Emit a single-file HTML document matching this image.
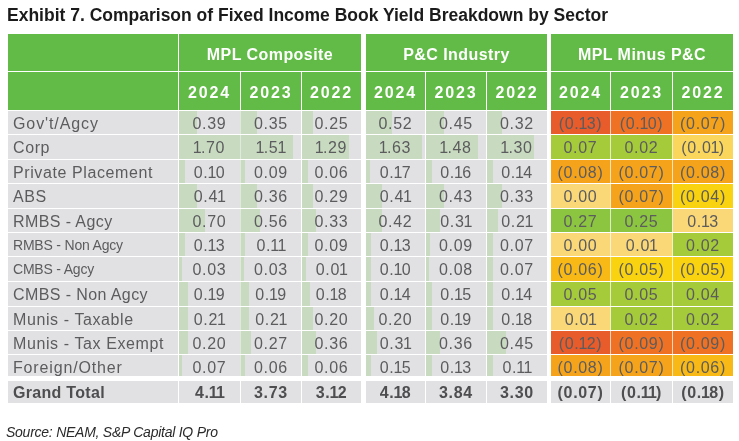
<!DOCTYPE html><html><head><meta charset="utf-8"><style>
html,body{margin:0;padding:0;background:#fff}
body{width:739px;height:441px;position:relative;overflow:hidden;font-family:"Liberation Sans",Arial,sans-serif}
.c{position:absolute;box-sizing:border-box;overflow:hidden}
.t{position:absolute;left:0;right:0;white-space:nowrap}
.title{position:absolute;left:7px;top:5px;font-weight:bold;font-size:17.5px;letter-spacing:0.0px;color:#1b1b1b;white-space:nowrap}
.grp{color:#fff;font-weight:bold;font-size:16.0px;letter-spacing:0.45px;text-align:center}
.yr{color:#fff;font-weight:bold;font-size:16.0px;letter-spacing:1.8px;text-align:center}
.lab{color:#5c5c5e;font-size:16.0px;letter-spacing:0.6px;padding-left:5px}
.sm{font-size:14.0px;letter-spacing:-0.2px}
.num{color:#5c5c5e;font-size:16.0px;letter-spacing:0.7px;text-align:center}
.bar{position:absolute;left:0;top:0;bottom:0;background:#c8dbc0}
.gt{font-weight:bold;color:#4e4e50}
.n1{letter-spacing:-0.8px;margin-left:-1px}
.src{position:absolute;left:6px;top:424px;letter-spacing:-0.25px;font-style:italic;font-size:14.0px;color:#2b2b2b;white-space:nowrap}

</style></head><body>
<div class="title">Exhibit 7. Comparison of Fixed Income Book Yield Breakdown by Sector</div>
<div class="c " style="left:8px;top:34px;width:170px;height:37px;background:#62bb47"></div>
<div class="c " style="left:179px;top:34px;width:182px;height:37px;background:#62bb47"><div class="t grp" style="top:12px">MPL Composite</div></div>
<div class="c " style="left:366px;top:34px;width:181px;height:37px;background:#62bb47"><div class="t grp" style="top:12px">P&amp;C Industry</div></div>
<div class="c " style="left:551px;top:34px;width:182px;height:37px;background:#62bb47"><div class="t grp" style="top:12px">MPL Minus P&amp;C</div></div>
<div class="c " style="left:8px;top:72px;width:170px;height:38px;background:#62bb47"></div>
<div class="c " style="left:179px;top:72px;width:61px;height:38px;background:#62bb47"><div class="t yr" style="top:12px">2024</div></div>
<div class="c " style="left:241px;top:72px;width:60px;height:38px;background:#62bb47"><div class="t yr" style="top:12px">2023</div></div>
<div class="c " style="left:302px;top:72px;width:59px;height:38px;background:#62bb47"><div class="t yr" style="top:12px">2022</div></div>
<div class="c " style="left:366px;top:72px;width:59px;height:38px;background:#62bb47"><div class="t yr" style="top:12px">2024</div></div>
<div class="c " style="left:426px;top:72px;width:60px;height:38px;background:#62bb47"><div class="t yr" style="top:12px">2023</div></div>
<div class="c " style="left:487px;top:72px;width:60px;height:38px;background:#62bb47"><div class="t yr" style="top:12px">2022</div></div>
<div class="c " style="left:551px;top:72px;width:59px;height:38px;background:#62bb47"><div class="t yr" style="top:12px">2024</div></div>
<div class="c " style="left:611px;top:72px;width:61px;height:38px;background:#62bb47"><div class="t yr" style="top:12px">2023</div></div>
<div class="c " style="left:673px;top:72px;width:60px;height:38px;background:#62bb47"><div class="t yr" style="top:12px">2022</div></div>
<div class="c " style="left:8px;top:111px;width:170px;height:23px;background:#e1e1e3"><div class="t lab" style="top:4px;letter-spacing:0.9px">Gov't/Agcy</div></div>
<div class="c " style="left:179px;top:111px;width:61px;height:23px;background:#e1e1e3"><div class="bar" style="width:18px"></div><div class="t num" style="top:4px">0.39</div></div>
<div class="c " style="left:241px;top:111px;width:60px;height:23px;background:#e1e1e3"><div class="bar" style="width:16px"></div><div class="t num" style="top:4px">0.35</div></div>
<div class="c " style="left:302px;top:111px;width:59px;height:23px;background:#e1e1e3"><div class="bar" style="width:11px"></div><div class="t num" style="top:4px">0.25</div></div>
<div class="c " style="left:366px;top:111px;width:59px;height:23px;background:#e1e1e3"><div class="bar" style="width:26px"></div><div class="t num" style="top:4px">0.52</div></div>
<div class="c " style="left:426px;top:111px;width:60px;height:23px;background:#e1e1e3"><div class="bar" style="width:18px"></div><div class="t num" style="top:4px">0.45</div></div>
<div class="c " style="left:487px;top:111px;width:60px;height:23px;background:#e1e1e3"><div class="bar" style="width:15px"></div><div class="t num" style="top:4px">0.32</div></div>
<div class="c " style="left:551px;top:111px;width:59px;height:23px;background:#e85b2a"><div class="t num" style="top:4px">(0.<span class="n1">1</span>3)</div></div>
<div class="c " style="left:611px;top:111px;width:61px;height:23px;background:#ef7224"><div class="t num" style="top:4px">(0.<span class="n1">1</span>0)</div></div>
<div class="c " style="left:673px;top:111px;width:60px;height:23px;background:#f6a31c"><div class="t num" style="top:4px">(0.07)</div></div>
<div class="c " style="left:8px;top:135px;width:170px;height:24px;background:#e1e1e3"><div class="t lab" style="top:4px">Corp</div></div>
<div class="c " style="left:179px;top:135px;width:61px;height:24px;background:#e1e1e3"><div class="bar" style="width:61px"></div><div class="t num" style="top:4px"><span class="n1">1</span>.70</div></div>
<div class="c " style="left:241px;top:135px;width:60px;height:24px;background:#e1e1e3"><div class="bar" style="width:52px"></div><div class="t num" style="top:4px"><span class="n1">1</span>.5<span class="n1">1</span></div></div>
<div class="c " style="left:302px;top:135px;width:59px;height:24px;background:#e1e1e3"><div class="bar" style="width:47px"></div><div class="t num" style="top:4px"><span class="n1">1</span>.29</div></div>
<div class="c " style="left:366px;top:135px;width:59px;height:24px;background:#e1e1e3"><div class="bar" style="width:56px"></div><div class="t num" style="top:4px"><span class="n1">1</span>.63</div></div>
<div class="c " style="left:426px;top:135px;width:60px;height:24px;background:#e1e1e3"><div class="bar" style="width:52px"></div><div class="t num" style="top:4px"><span class="n1">1</span>.48</div></div>
<div class="c " style="left:487px;top:135px;width:60px;height:24px;background:#e1e1e3"><div class="bar" style="width:47px"></div><div class="t num" style="top:4px"><span class="n1">1</span>.30</div></div>
<div class="c " style="left:551px;top:135px;width:59px;height:24px;background:#a5cb3a"><div class="t num" style="top:4px">0.07</div></div>
<div class="c " style="left:611px;top:135px;width:61px;height:24px;background:#a5cb3a"><div class="t num" style="top:4px">0.02</div></div>
<div class="c " style="left:673px;top:135px;width:60px;height:24px;background:#fad65c"><div class="t num" style="top:4px">(0.0<span class="n1">1</span>)</div></div>
<div class="c " style="left:8px;top:160px;width:170px;height:23px;background:#e1e1e3"><div class="t lab" style="top:4px">Private Placement</div></div>
<div class="c " style="left:179px;top:160px;width:61px;height:23px;background:#e1e1e3"><div class="bar" style="width:6px"></div><div class="t num" style="top:4px">0.<span class="n1">1</span>0</div></div>
<div class="c " style="left:241px;top:160px;width:60px;height:23px;background:#e1e1e3"><div class="bar" style="width:4px"></div><div class="t num" style="top:4px">0.09</div></div>
<div class="c " style="left:302px;top:160px;width:59px;height:23px;background:#e1e1e3"><div class="bar" style="width:6px"></div><div class="t num" style="top:4px">0.06</div></div>
<div class="c " style="left:366px;top:160px;width:59px;height:23px;background:#e1e1e3"><div class="bar" style="width:4px"></div><div class="t num" style="top:4px">0.<span class="n1">1</span>7</div></div>
<div class="c " style="left:426px;top:160px;width:60px;height:23px;background:#e1e1e3"><div class="bar" style="width:6px"></div><div class="t num" style="top:4px">0.<span class="n1">1</span>6</div></div>
<div class="c " style="left:487px;top:160px;width:60px;height:23px;background:#e1e1e3"><div class="bar" style="width:6px"></div><div class="t num" style="top:4px">0.<span class="n1">1</span>4</div></div>
<div class="c " style="left:551px;top:160px;width:59px;height:23px;background:#f6a31c"><div class="t num" style="top:4px">(0.08)</div></div>
<div class="c " style="left:611px;top:160px;width:61px;height:23px;background:#f6a31c"><div class="t num" style="top:4px">(0.07)</div></div>
<div class="c " style="left:673px;top:160px;width:60px;height:23px;background:#f6a31c"><div class="t num" style="top:4px">(0.08)</div></div>
<div class="c " style="left:8px;top:184px;width:170px;height:24px;background:#e1e1e3"><div class="t lab" style="top:4px">ABS</div></div>
<div class="c " style="left:179px;top:184px;width:61px;height:24px;background:#e1e1e3"><div class="bar" style="width:18px"></div><div class="t num" style="top:4px">0.4<span class="n1">1</span></div></div>
<div class="c " style="left:241px;top:184px;width:60px;height:24px;background:#e1e1e3"><div class="bar" style="width:16px"></div><div class="t num" style="top:4px">0.36</div></div>
<div class="c " style="left:302px;top:184px;width:59px;height:24px;background:#e1e1e3"><div class="bar" style="width:11px"></div><div class="t num" style="top:4px">0.29</div></div>
<div class="c " style="left:366px;top:184px;width:59px;height:24px;background:#e1e1e3"><div class="bar" style="width:16px"></div><div class="t num" style="top:4px">0.4<span class="n1">1</span></div></div>
<div class="c " style="left:426px;top:184px;width:60px;height:24px;background:#e1e1e3"><div class="bar" style="width:18px"></div><div class="t num" style="top:4px">0.43</div></div>
<div class="c " style="left:487px;top:184px;width:60px;height:24px;background:#e1e1e3"><div class="bar" style="width:15px"></div><div class="t num" style="top:4px">0.33</div></div>
<div class="c " style="left:551px;top:184px;width:59px;height:24px;background:#fad878"><div class="t num" style="top:4px">0.00</div></div>
<div class="c " style="left:611px;top:184px;width:61px;height:24px;background:#f6a31c"><div class="t num" style="top:4px">(0.07)</div></div>
<div class="c " style="left:673px;top:184px;width:60px;height:24px;background:#f9d210"><div class="t num" style="top:4px">(0.04)</div></div>
<div class="c " style="left:8px;top:209px;width:170px;height:23px;background:#e1e1e3"><div class="t lab" style="top:4px;letter-spacing:0.4px">RMBS - Agcy</div></div>
<div class="c " style="left:179px;top:209px;width:61px;height:23px;background:#e1e1e3"><div class="bar" style="width:26px"></div><div class="t num" style="top:4px">0.70</div></div>
<div class="c " style="left:241px;top:209px;width:60px;height:23px;background:#e1e1e3"><div class="bar" style="width:19px"></div><div class="t num" style="top:4px">0.56</div></div>
<div class="c " style="left:302px;top:209px;width:59px;height:23px;background:#e1e1e3"><div class="bar" style="width:14px"></div><div class="t num" style="top:4px">0.33</div></div>
<div class="c " style="left:366px;top:209px;width:59px;height:23px;background:#e1e1e3"><div class="bar" style="width:16px"></div><div class="t num" style="top:4px">0.42</div></div>
<div class="c " style="left:426px;top:209px;width:60px;height:23px;background:#e1e1e3"><div class="bar" style="width:14px"></div><div class="t num" style="top:4px">0.3<span class="n1">1</span></div></div>
<div class="c " style="left:487px;top:209px;width:60px;height:23px;background:#e1e1e3"><div class="bar" style="width:11px"></div><div class="t num" style="top:4px">0.2<span class="n1">1</span></div></div>
<div class="c " style="left:551px;top:209px;width:59px;height:23px;background:#8cc540"><div class="t num" style="top:4px">0.27</div></div>
<div class="c " style="left:611px;top:209px;width:61px;height:23px;background:#8cc540"><div class="t num" style="top:4px">0.25</div></div>
<div class="c " style="left:673px;top:209px;width:60px;height:23px;background:#fad878"><div class="t num" style="top:4px">0.<span class="n1">1</span>3</div></div>
<div class="c " style="left:8px;top:233px;width:170px;height:23px;background:#e1e1e3"><div class="t lab sm" style="top:4px">RMBS - Non Agcy</div></div>
<div class="c " style="left:179px;top:233px;width:61px;height:23px;background:#e1e1e3"><div class="bar" style="width:6px"></div><div class="t num" style="top:4px">0.<span class="n1">1</span>3</div></div>
<div class="c " style="left:241px;top:233px;width:60px;height:23px;background:#e1e1e3"><div class="bar" style="width:4px"></div><div class="t num" style="top:4px">0.<span class="n1">1</span><span class="n1">1</span></div></div>
<div class="c " style="left:302px;top:233px;width:59px;height:23px;background:#e1e1e3"><div class="bar" style="width:6px"></div><div class="t num" style="top:4px">0.09</div></div>
<div class="c " style="left:366px;top:233px;width:59px;height:23px;background:#e1e1e3"><div class="bar" style="width:5px"></div><div class="t num" style="top:4px">0.<span class="n1">1</span>3</div></div>
<div class="c " style="left:426px;top:233px;width:60px;height:23px;background:#e1e1e3"><div class="bar" style="width:4px"></div><div class="t num" style="top:4px">0.09</div></div>
<div class="c " style="left:487px;top:233px;width:60px;height:23px;background:#e1e1e3"><div class="bar" style="width:6px"></div><div class="t num" style="top:4px">0.07</div></div>
<div class="c " style="left:551px;top:233px;width:59px;height:23px;background:#fad878"><div class="t num" style="top:4px">0.00</div></div>
<div class="c " style="left:611px;top:233px;width:61px;height:23px;background:#fad878"><div class="t num" style="top:4px">0.0<span class="n1">1</span></div></div>
<div class="c " style="left:673px;top:233px;width:60px;height:23px;background:#a5cb3a"><div class="t num" style="top:4px">0.02</div></div>
<div class="c " style="left:8px;top:257px;width:170px;height:24px;background:#e1e1e3"><div class="t lab sm" style="top:4px">CMBS - Agcy</div></div>
<div class="c " style="left:179px;top:257px;width:61px;height:24px;background:#e1e1e3"><div class="bar" style="width:3px"></div><div class="t num" style="top:4px">0.03</div></div>
<div class="c " style="left:241px;top:257px;width:60px;height:24px;background:#e1e1e3"><div class="bar" style="width:3px"></div><div class="t num" style="top:4px">0.03</div></div>
<div class="c " style="left:302px;top:257px;width:59px;height:24px;background:#e1e1e3"><div class="bar" style="width:4px"></div><div class="t num" style="top:4px">0.0<span class="n1">1</span></div></div>
<div class="c " style="left:366px;top:257px;width:59px;height:24px;background:#e1e1e3"><div class="bar" style="width:5px"></div><div class="t num" style="top:4px">0.<span class="n1">1</span>0</div></div>
<div class="c " style="left:426px;top:257px;width:60px;height:24px;background:#e1e1e3"><div class="bar" style="width:3px"></div><div class="t num" style="top:4px">0.08</div></div>
<div class="c " style="left:487px;top:257px;width:60px;height:24px;background:#e1e1e3"><div class="bar" style="width:6px"></div><div class="t num" style="top:4px">0.07</div></div>
<div class="c " style="left:551px;top:257px;width:59px;height:24px;background:#f8b917"><div class="t num" style="top:4px">(0.06)</div></div>
<div class="c " style="left:611px;top:257px;width:61px;height:24px;background:#f9d210"><div class="t num" style="top:4px">(0.05)</div></div>
<div class="c " style="left:673px;top:257px;width:60px;height:24px;background:#f9d210"><div class="t num" style="top:4px">(0.05)</div></div>
<div class="c " style="left:8px;top:282px;width:170px;height:24px;background:#e1e1e3"><div class="t lab" style="top:4px;letter-spacing:0.4px">CMBS - Non Agcy</div></div>
<div class="c " style="left:179px;top:282px;width:61px;height:24px;background:#e1e1e3"><div class="bar" style="width:9px"></div><div class="t num" style="top:4px">0.<span class="n1">1</span>9</div></div>
<div class="c " style="left:241px;top:282px;width:60px;height:24px;background:#e1e1e3"><div class="bar" style="width:8px"></div><div class="t num" style="top:4px">0.<span class="n1">1</span>9</div></div>
<div class="c " style="left:302px;top:282px;width:59px;height:24px;background:#e1e1e3"><div class="bar" style="width:8px"></div><div class="t num" style="top:4px">0.<span class="n1">1</span>8</div></div>
<div class="c " style="left:366px;top:282px;width:59px;height:24px;background:#e1e1e3"><div class="bar" style="width:5px"></div><div class="t num" style="top:4px">0.<span class="n1">1</span>4</div></div>
<div class="c " style="left:426px;top:282px;width:60px;height:24px;background:#e1e1e3"><div class="bar" style="width:6px"></div><div class="t num" style="top:4px">0.<span class="n1">1</span>5</div></div>
<div class="c " style="left:487px;top:282px;width:60px;height:24px;background:#e1e1e3"><div class="bar" style="width:6px"></div><div class="t num" style="top:4px">0.<span class="n1">1</span>4</div></div>
<div class="c " style="left:551px;top:282px;width:59px;height:24px;background:#a5cb3a"><div class="t num" style="top:4px">0.05</div></div>
<div class="c " style="left:611px;top:282px;width:61px;height:24px;background:#a5cb3a"><div class="t num" style="top:4px">0.05</div></div>
<div class="c " style="left:673px;top:282px;width:60px;height:24px;background:#a5cb3a"><div class="t num" style="top:4px">0.04</div></div>
<div class="c " style="left:8px;top:307px;width:170px;height:23px;background:#e1e1e3"><div class="t lab" style="top:4px">Munis - Taxable</div></div>
<div class="c " style="left:179px;top:307px;width:61px;height:23px;background:#e1e1e3"><div class="bar" style="width:9px"></div><div class="t num" style="top:4px">0.2<span class="n1">1</span></div></div>
<div class="c " style="left:241px;top:307px;width:60px;height:23px;background:#e1e1e3"><div class="bar" style="width:8px"></div><div class="t num" style="top:4px">0.2<span class="n1">1</span></div></div>
<div class="c " style="left:302px;top:307px;width:59px;height:23px;background:#e1e1e3"><div class="bar" style="width:11px"></div><div class="t num" style="top:4px">0.20</div></div>
<div class="c " style="left:366px;top:307px;width:59px;height:23px;background:#e1e1e3"><div class="bar" style="width:8px"></div><div class="t num" style="top:4px">0.20</div></div>
<div class="c " style="left:426px;top:307px;width:60px;height:23px;background:#e1e1e3"><div class="bar" style="width:6px"></div><div class="t num" style="top:4px">0.<span class="n1">1</span>9</div></div>
<div class="c " style="left:487px;top:307px;width:60px;height:23px;background:#e1e1e3"><div class="bar" style="width:6px"></div><div class="t num" style="top:4px">0.<span class="n1">1</span>8</div></div>
<div class="c " style="left:551px;top:307px;width:59px;height:23px;background:#fad878"><div class="t num" style="top:4px">0.0<span class="n1">1</span></div></div>
<div class="c " style="left:611px;top:307px;width:61px;height:23px;background:#a5cb3a"><div class="t num" style="top:4px">0.02</div></div>
<div class="c " style="left:673px;top:307px;width:60px;height:23px;background:#a5cb3a"><div class="t num" style="top:4px">0.02</div></div>
<div class="c " style="left:8px;top:331px;width:170px;height:23px;background:#e1e1e3"><div class="t lab" style="top:4px">Munis - Tax Exempt</div></div>
<div class="c " style="left:179px;top:331px;width:61px;height:23px;background:#e1e1e3"><div class="bar" style="width:9px"></div><div class="t num" style="top:4px">0.20</div></div>
<div class="c " style="left:241px;top:331px;width:60px;height:23px;background:#e1e1e3"><div class="bar" style="width:10px"></div><div class="t num" style="top:4px">0.27</div></div>
<div class="c " style="left:302px;top:331px;width:59px;height:23px;background:#e1e1e3"><div class="bar" style="width:14px"></div><div class="t num" style="top:4px">0.36</div></div>
<div class="c " style="left:366px;top:331px;width:59px;height:23px;background:#e1e1e3"><div class="bar" style="width:11px"></div><div class="t num" style="top:4px">0.3<span class="n1">1</span></div></div>
<div class="c " style="left:426px;top:331px;width:60px;height:23px;background:#e1e1e3"><div class="bar" style="width:14px"></div><div class="t num" style="top:4px">0.36</div></div>
<div class="c " style="left:487px;top:331px;width:60px;height:23px;background:#e1e1e3"><div class="bar" style="width:19px"></div><div class="t num" style="top:4px">0.45</div></div>
<div class="c " style="left:551px;top:331px;width:59px;height:23px;background:#e85b2a"><div class="t num" style="top:4px">(0.<span class="n1">1</span>2)</div></div>
<div class="c " style="left:611px;top:331px;width:61px;height:23px;background:#ef7224"><div class="t num" style="top:4px">(0.09)</div></div>
<div class="c " style="left:673px;top:331px;width:60px;height:23px;background:#ef7224"><div class="t num" style="top:4px">(0.09)</div></div>
<div class="c " style="left:8px;top:355px;width:170px;height:21px;background:#e1e1e3"><div class="t lab" style="top:4px;letter-spacing:0.85px">Foreign/Other</div></div>
<div class="c " style="left:179px;top:355px;width:61px;height:21px;background:#e1e1e3"><div class="bar" style="width:3px"></div><div class="t num" style="top:4px">0.07</div></div>
<div class="c " style="left:241px;top:355px;width:60px;height:21px;background:#e1e1e3"><div class="bar" style="width:4px"></div><div class="t num" style="top:4px">0.06</div></div>
<div class="c " style="left:302px;top:355px;width:59px;height:21px;background:#e1e1e3"><div class="bar" style="width:6px"></div><div class="t num" style="top:4px">0.06</div></div>
<div class="c " style="left:366px;top:355px;width:59px;height:21px;background:#e1e1e3"><div class="bar" style="width:5px"></div><div class="t num" style="top:4px">0.<span class="n1">1</span>5</div></div>
<div class="c " style="left:426px;top:355px;width:60px;height:21px;background:#e1e1e3"><div class="bar" style="width:6px"></div><div class="t num" style="top:4px">0.<span class="n1">1</span>3</div></div>
<div class="c " style="left:487px;top:355px;width:60px;height:21px;background:#e1e1e3"><div class="bar" style="width:6px"></div><div class="t num" style="top:4px">0.<span class="n1">1</span><span class="n1">1</span></div></div>
<div class="c " style="left:551px;top:355px;width:59px;height:21px;background:#f6a31c"><div class="t num" style="top:4px">(0.08)</div></div>
<div class="c " style="left:611px;top:355px;width:61px;height:21px;background:#f6a31c"><div class="t num" style="top:4px">(0.07)</div></div>
<div class="c " style="left:673px;top:355px;width:60px;height:21px;background:#f8b917"><div class="t num" style="top:4px">(0.06)</div></div>
<div class="c" style="left:240px;top:111px;width:1px;height:23px;background:#dfeada"></div>
<div class="c" style="left:610px;top:111px;width:1px;height:23px;background:#f9d1be"></div>
<div class="c" style="left:672px;top:111px;width:1px;height:23px;background:#fbdcbc"></div>
<div class="c" style="left:240px;top:135px;width:1px;height:24px;background:#dfeada"></div>
<div class="c" style="left:610px;top:135px;width:1px;height:24px;background:#e4efc4"></div>
<div class="c" style="left:672px;top:135px;width:1px;height:24px;background:#f1f1c9"></div>
<div class="c" style="left:240px;top:160px;width:1px;height:23px;background:#dfeada"></div>
<div class="c" style="left:610px;top:160px;width:1px;height:23px;background:#fce3bb"></div>
<div class="c" style="left:672px;top:160px;width:1px;height:23px;background:#fce3bb"></div>
<div class="c" style="left:240px;top:184px;width:1px;height:24px;background:#dfeada"></div>
<div class="c" style="left:610px;top:184px;width:1px;height:24px;background:#fdebc9"></div>
<div class="c" style="left:672px;top:184px;width:1px;height:24px;background:#fdeab9"></div>
<div class="c" style="left:240px;top:209px;width:1px;height:23px;background:#dfeada"></div>
<div class="c" style="left:610px;top:209px;width:1px;height:23px;background:#dceec6"></div>
<div class="c" style="left:672px;top:209px;width:1px;height:23px;background:#edf0ce"></div>
<div class="c" style="left:240px;top:233px;width:1px;height:23px;background:#dfeada"></div>
<div class="c" style="left:610px;top:233px;width:1px;height:23px;background:#fef3d6"></div>
<div class="c" style="left:672px;top:233px;width:1px;height:23px;background:#f1f1cd"></div>
<div class="c" style="left:240px;top:257px;width:1px;height:24px;background:#dfeada"></div>
<div class="c" style="left:610px;top:257px;width:1px;height:24px;background:#fdeeb8"></div>
<div class="c" style="left:672px;top:257px;width:1px;height:24px;background:#fdf2b7"></div>
<div class="c" style="left:240px;top:282px;width:1px;height:24px;background:#dfeada"></div>
<div class="c" style="left:610px;top:282px;width:1px;height:24px;background:#e4efc4"></div>
<div class="c" style="left:672px;top:282px;width:1px;height:24px;background:#e4efc4"></div>
<div class="c" style="left:240px;top:307px;width:1px;height:23px;background:#dfeada"></div>
<div class="c" style="left:610px;top:307px;width:1px;height:23px;background:#f1f1cd"></div>
<div class="c" style="left:672px;top:307px;width:1px;height:23px;background:#e4efc4"></div>
<div class="c" style="left:240px;top:331px;width:1px;height:23px;background:#dfeada"></div>
<div class="c" style="left:610px;top:331px;width:1px;height:23px;background:#f9d1be"></div>
<div class="c" style="left:672px;top:331px;width:1px;height:23px;background:#fad5bd"></div>
<div class="c" style="left:240px;top:355px;width:1px;height:21px;background:#dfeada"></div>
<div class="c" style="left:610px;top:355px;width:1px;height:21px;background:#fce3bb"></div>
<div class="c" style="left:672px;top:355px;width:1px;height:21px;background:#fde7ba"></div>
<div class="c " style="left:8px;top:381px;width:170px;height:22px;background:#e1e1e3"><div class="t lab gt" style="top:3px;letter-spacing:0.3px">Grand Total</div></div>
<div class="c " style="left:179px;top:381px;width:61px;height:22px;background:#e1e1e3"><div class="t num gt" style="top:3px">4.<span class="n1">1</span><span class="n1">1</span></div></div>
<div class="c " style="left:241px;top:381px;width:60px;height:22px;background:#e1e1e3"><div class="t num gt" style="top:3px">3.73</div></div>
<div class="c " style="left:302px;top:381px;width:59px;height:22px;background:#e1e1e3"><div class="t num gt" style="top:3px">3.<span class="n1">1</span>2</div></div>
<div class="c " style="left:366px;top:381px;width:59px;height:22px;background:#e1e1e3"><div class="t num gt" style="top:3px">4.<span class="n1">1</span>8</div></div>
<div class="c " style="left:426px;top:381px;width:60px;height:22px;background:#e1e1e3"><div class="t num gt" style="top:3px">3.84</div></div>
<div class="c " style="left:487px;top:381px;width:60px;height:22px;background:#e1e1e3"><div class="t num gt" style="top:3px">3.30</div></div>
<div class="c " style="left:551px;top:381px;width:59px;height:22px;background:#e1e1e3"><div class="t num gt" style="top:3px">(0.07)</div></div>
<div class="c " style="left:611px;top:381px;width:61px;height:22px;background:#e1e1e3"><div class="t num gt" style="top:3px">(0.<span class="n1">1</span><span class="n1">1</span>)</div></div>
<div class="c " style="left:673px;top:381px;width:60px;height:22px;background:#e1e1e3"><div class="t num gt" style="top:3px">(0.<span class="n1">1</span>8)</div></div>
<div class="src">Source: NEAM, S&amp;P Capital IQ Pro</div>
</body></html>
